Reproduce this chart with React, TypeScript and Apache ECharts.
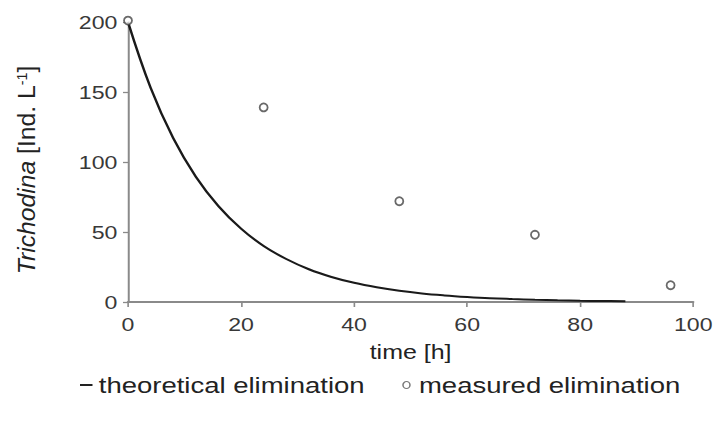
import React, { useEffect, useRef } from "react";
import * as echarts from "echarts";

const xTicks = [0, 20, 40, 60, 80, 100];
const yTicks = [0, 50, 100, 150, 200];
const theoryTime = [0, 4, 8, 12, 16, 20, 24, 28, 32, 36, 40, 44, 48, 52, 56, 60, 64, 68, 72, 76, 80, 84, 88];
const theoryValue = [200, 153, 117, 89.5, 68.5, 52.4, 40, 30.7, 23.4, 17.9, 13.7, 10.5, 8, 6.1, 4.7, 3.6, 2.7, 2.1, 1.6, 1.2, 0.9, 0.7, 0.55];
const measuredTime = [0, 24, 48, 72, 96];
const measuredValue = [201, 139, 72, 48, 12];
const yTitleItalic = "Trichodina";
const yTitleRest = " [Ind. L";
const yTitleSup = "-1";
const xTitle = "time [h]";
const legendNames = ["theoretical elimination", "measured elimination"];

const SX = 1.25; // horizontal stretch of the reference picture
const W = 716;
const H = 428;

export default function App() {
  const ref = useRef<HTMLDivElement>(null);
  useEffect(() => {
    if (!ref.current) return;
    const chart = echarts.init(ref.current, null, { renderer: "svg" });
    const font = "Liberation Sans, Arial, sans-serif";
    chart.setOption({
      animation: false,
      textStyle: { fontFamily: font },
      grid: { left: 128 / SX, right: 16 / SX, top: 22, bottom: 126 },
      graphic: [
        {
          type: "text",
          x: 21.5,
          y: 170,
          rotation: Math.PI / 2,
          scaleX: 1.3,
          scaleY: 1,
          style: {
            text: `{it|${yTitleItalic}}${yTitleRest}{sup|${yTitleSup}}]`,
            fontSize: 19,
            fontFamily: font,
            fill: "#222",
            align: "center",
            verticalAlign: "middle",
            rich: {
              it: { fontStyle: "italic", fontSize: 19, fill: "#222", fontFamily: font },
              sup: { fontSize: 11, fill: "#222", verticalAlign: "top", fontFamily: font },
            },
          },
        },
      ],
      xAxis: {
        type: "value",
        min: xTicks[0],
        max: xTicks[xTicks.length - 1],
        interval: xTicks[1] - xTicks[0],
        name: xTitle,
        nameLocation: "middle",
        nameGap: 40,
        nameTextStyle: { fontSize: 20, color: "#222", fontFamily: font },
        axisLine: { lineStyle: { color: "#8a8a8a", width: 2 } },
        axisTick: { length: 5, lineStyle: { color: "#8a8a8a", width: 1.3 } },
        axisLabel: { fontSize: 18.5, color: "#383838", margin: 13, fontFamily: font },
        splitLine: { show: false },
      },
      yAxis: {
        type: "value",
        min: yTicks[0],
        max: yTicks[yTicks.length - 1],
        interval: yTicks[1] - yTicks[0],
        axisLine: { show: true, lineStyle: { color: "#8a8a8a", width: 1.6 } },
        axisTick: { show: true, length: 4, lineStyle: { color: "#8a8a8a", width: 1.3 } },
        axisLabel: { fontSize: 18.5, color: "#383838", margin: 8.5, fontFamily: font },
        splitLine: { show: false },
      },
      legend: {
        top: 374,
        left: 64,
        padding: 0,
        itemGap: 30,
        itemWidth: 10,
        itemHeight: 7,
        symbolKeepAspect: true,
        textStyle: { fontSize: 22, color: "#222", fontFamily: font },
        data: [
          { name: legendNames[0], icon: "path://M0,0 L10,0 L10,2 L0,2 Z", itemStyle: { color: "#222", borderWidth: 0 } },
          {
            name: legendNames[1],
            icon: "path://M4,0 A4,5 0 1 1 4,10 A4,5 0 1 1 4,0 Z",
            itemStyle: { color: "#fff", borderColor: "#555", borderWidth: 1.2 },
          },
        ],
      },
      series: [
        {
          name: legendNames[0],
          type: "line",
          smooth: 0.4,
          showSymbol: false,
          symbol: "none",
          lineStyle: { color: "#1a1a1a", width: 2 },
          itemStyle: { color: "#1a1a1a" },
          data: theoryTime.map((t, i) => [t, theoryValue[i]]),
          z: 3,
        },
        {
          name: legendNames[1],
          type: "scatter",
          symbol: "circle",
          symbolSize: [8 / SX, 8],
          clip: false,
          itemStyle: { color: "#fff", borderColor: "#444", borderWidth: 1.6 },
          data: measuredTime.map((t, i) => [t, measuredValue[i]]),
          z: 4,
        },
      ],
    });
    return () => chart.dispose();
  }, []);
  return (
    <div style={{ position: "absolute", left: 0, top: 0, width: W, height: H, overflow: "hidden", background: "#fff" }}>
      <div
        ref={ref}
        style={{ width: W / SX, height: H, transform: `scaleX(${SX})`, transformOrigin: "0 0" }}
      />
    </div>
  );
}
